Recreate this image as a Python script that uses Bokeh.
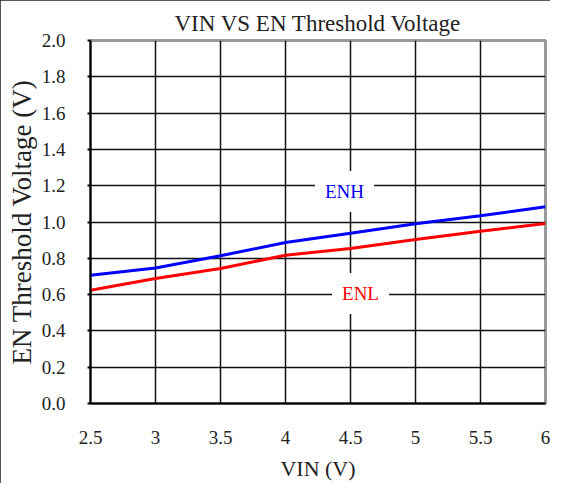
from bokeh.plotting import figure
from bokeh.models import Label, FixedTicker, Range1d
from bokeh.embed import file_html
from bokeh.resources import INLINE

vin = [2.5, 3.0, 3.5, 4.0, 4.5, 5.0, 5.5, 6.0]
enh = [0.707, 0.747, 0.814, 0.887, 0.938, 0.990, 1.034, 1.084]
enl = [0.624, 0.689, 0.744, 0.817, 0.854, 0.904, 0.949, 0.992]
x_ticks = [2.5, 3.0, 3.5, 4.0, 4.5, 5.0, 5.5, 6.0]
x_tick_labels = {2.5: "2.5", 3.0: "3", 3.5: "3.5", 4.0: "4", 4.5: "4.5", 5.0: "5", 5.5: "5.5", 6.0: "6"}
y_ticks = [0.0, 0.2, 0.4, 0.6, 0.8, 1.0, 1.2, 1.4, 1.6, 1.8, 2.0]

FONT = "Liberation Serif"

p = figure(width=550, height=483, output_backend="svg", toolbar_location=None,
           x_range=Range1d(2.5, 6.0), y_range=Range1d(0.0, 2.0),
           min_border_left=90, min_border_right=5, min_border_top=40, min_border_bottom=80)
p.title.text = "VIN VS EN Threshold Voltage"
p.title.align = "center"
p.title.text_font = FONT
p.title.text_font_size = "23px"
p.title.text_font_style = "normal"
p.title.text_color = "#222222"
p.title.standoff = 10

p.line(vin, enh, line_color="#0000FF", line_width=3)
p.line(vin, enl, line_color="#FF0000", line_width=3)

p.xaxis.ticker = FixedTicker(ticks=x_ticks)
p.xaxis.major_label_overrides = x_tick_labels
p.yaxis.ticker = FixedTicker(ticks=y_ticks)
p.yaxis.major_label_overrides = {v: f"{v:.1f}" for v in y_ticks}
p.xgrid.ticker = FixedTicker(ticks=x_ticks[1:-1])
p.ygrid.ticker = FixedTicker(ticks=y_ticks[1:-1])

p.xaxis.axis_label = "VIN (V)"
p.yaxis.axis_label = "EN Threshold Voltage (V)"
for ax in (p.xaxis[0], p.yaxis[0]):
    ax.axis_label_text_font = FONT
    ax.axis_label_text_font_style = "normal"
    ax.axis_label_text_color = "#222222"
    ax.major_label_text_font = FONT
    ax.major_label_text_font_size = "19px"
    ax.major_label_text_color = "#222222"
    ax.minor_tick_line_color = None
    ax.axis_line_color = "black"
    ax.axis_line_width = 2
    ax.major_tick_line_color = "black"
    ax.major_tick_line_width = 2
p.xaxis.axis_label_text_font_size = "22px"
p.yaxis.axis_label_text_font_size = "27px"

p.xaxis.major_tick_out = 0
p.xaxis.major_tick_in = 0
p.xaxis.major_label_standoff = 27
p.xaxis.axis_label_standoff = 9
p.yaxis.major_tick_out = 3
p.yaxis.major_tick_in = 0
p.yaxis.major_label_standoff = 22
p.yaxis.axis_label_standoff = 2

p.xgrid.grid_line_color = "#111111"
p.ygrid.grid_line_color = "#111111"
p.xgrid.grid_line_width = 1.5
p.ygrid.grid_line_width = 1.5
p.outline_line_color = "#999999"
p.outline_line_width = 3

p.add_layout(Label(x=4.454, y=1.168, text="ENH", text_color="#0000FF", text_font=FONT,
                   text_font_size="19px", text_align="center", text_baseline="middle",
                   background_fill_color="white", padding=10))
p.add_layout(Label(x=4.577, y=0.606, text="ENL", text_color="#FF0000", text_font=FONT,
                   text_font_size="19px", text_align="center", text_baseline="middle",
                   background_fill_color="white", padding=10))

p.styles = {"outline": "2px solid #222222", "outline-offset": "-2px"}

open("out.html", "w").write(file_html(p, INLINE))
